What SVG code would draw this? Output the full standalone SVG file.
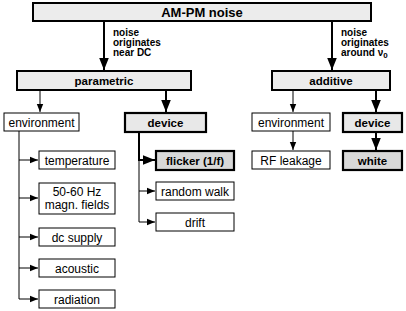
<svg xmlns="http://www.w3.org/2000/svg" width="406" height="311" viewBox="0 0 406 311">
<defs>
<style>
text{font-family:"Liberation Sans",Arial,sans-serif;fill:#000;text-anchor:middle}
.t{font-size:12px}
.b{font-size:11.5px;font-weight:bold}
.h{font-size:13px;font-weight:bold}
.n{font-size:10px;font-weight:bold;text-anchor:start}
.thin{fill:#fff;stroke:#000;stroke-width:1}
.head{fill:#ececec;stroke:#000;stroke-width:2}
.dev{fill:#e8e8e8;stroke:#000;stroke-width:2.2}
.dark{fill:#d8d8d8;stroke:#000;stroke-width:2.2}
.c1{fill:none;stroke:#000;stroke-width:1}
.c2{fill:none;stroke:#000;stroke-width:2}
</style>
<marker id="a1" viewBox="0 0 10 10" refX="10" refY="5" markerWidth="8" markerHeight="8" markerUnits="userSpaceOnUse" orient="auto"><path d="M0,1 L10,5 L0,9 z" fill="#000"/></marker>
<marker id="a2" viewBox="0 0 10 10" refX="10" refY="5" markerWidth="12" markerHeight="12" markerUnits="userSpaceOnUse" orient="auto"><path d="M0,1 L10,5 L0,9 z" fill="#000"/></marker>
</defs>
<g id="connectors">
<path class="c2" d="M104,21 V70" marker-end="url(#a2)"/>
<path class="c2" d="M332,21 V70" marker-end="url(#a2)"/>
<path class="c1" d="M40,90 V112" marker-end="url(#a1)"/>
<path class="c2" d="M166,90 V112" marker-end="url(#a2)"/>
<path class="c1" d="M293,90 V112" marker-end="url(#a1)"/>
<path class="c2" d="M376,90 V112" marker-end="url(#a2)"/>
<path class="c1" d="M293,131 V150" marker-end="url(#a1)"/>
<path class="c2" d="M376,132 V150" marker-end="url(#a2)"/>
<path class="c1" d="M19,131 V299"/>
<path class="c1" d="M19,160 H38" marker-end="url(#a1)"/>
<path class="c1" d="M19,198 H38" marker-end="url(#a1)"/>
<path class="c1" d="M19,237 H38" marker-end="url(#a1)"/>
<path class="c1" d="M19,268 H38" marker-end="url(#a1)"/>
<path class="c1" d="M19,299 H38" marker-end="url(#a1)"/>
<path class="c2" d="M139,132 V160 H155" marker-end="url(#a2)"/>
<path class="c1" d="M139,160 V222"/>
<path class="c1" d="M139,191 H155" marker-end="url(#a1)"/>
<path class="c1" d="M139,222 H155" marker-end="url(#a1)"/>
</g>
<g id="ampm"><rect class="head" x="33" y="3" width="338" height="18"/><text class="h" x="202" y="16.5">AM-PM noise</text></g>
<g id="note-dc"><text class="n" x="113" y="36">noise</text><text class="n" x="113" y="46">originates</text><text class="n" x="113" y="56">near DC</text></g>
<g id="note-v0"><text class="n" x="341" y="36">noise</text><text class="n" x="341" y="46">originates</text><text class="n" x="341" y="56">around ν<tspan font-size="8" dy="2">0</tspan></text></g>
<g id="parametric"><rect class="head" x="17" y="71" width="174" height="19"/><text class="b" x="104" y="84.5">parametric</text></g>
<g id="additive"><rect class="head" x="272" y="71" width="118" height="19"/><text class="b" x="331" y="84.5">additive</text></g>
<g id="env-l"><rect class="thin" x="4" y="113" width="75" height="18"/><text class="t" x="41.5" y="126.5">environment</text></g>
<g id="dev-l"><rect class="dev" x="125" y="113" width="81" height="19"/><text class="b" x="165.5" y="126.5">device</text></g>
<g id="env-r"><rect class="thin" x="252" y="113" width="78" height="18"/><text class="t" x="291" y="126.5">environment</text></g>
<g id="dev-r"><rect class="dev" x="343" y="113" width="59" height="19"/><text class="b" x="372.5" y="126.5">device</text></g>
<g id="temperature"><rect class="thin" x="39" y="151" width="76" height="18"/><text class="t" x="77" y="164.5">temperature</text></g>
<g id="magn"><rect class="thin" x="39" y="183" width="76" height="31"/><text class="t" x="77" y="195.5">50-60 Hz</text><text class="t" x="77" y="209">magn. fields</text></g>
<g id="dcsupply"><rect class="thin" x="39" y="228" width="76" height="18"/><text class="t" x="77" y="241.5">dc supply</text></g>
<g id="acoustic"><rect class="thin" x="39" y="259" width="76" height="18"/><text class="t" x="77" y="272.5">acoustic</text></g>
<g id="radiation"><rect class="thin" x="39" y="290" width="76" height="18"/><text class="t" x="77" y="303.5">radiation</text></g>
<g id="flicker"><rect class="dark" x="156" y="151" width="78" height="19"/><text class="b" x="195" y="164.5">flicker (1/f)</text></g>
<g id="randomwalk"><rect class="thin" x="156" y="182" width="78" height="18"/><text class="t" x="195" y="195.5">random walk</text></g>
<g id="drift"><rect class="thin" x="156" y="213" width="78" height="18"/><text class="t" x="195" y="226.5">drift</text></g>
<g id="rfleak"><rect class="thin" x="252" y="151" width="78" height="18"/><text class="t" x="291" y="164.5">RF leakage</text></g>
<g id="white"><rect class="dark" x="343" y="151" width="59" height="19"/><text class="b" x="372.5" y="164.5">white</text></g>
</svg>
